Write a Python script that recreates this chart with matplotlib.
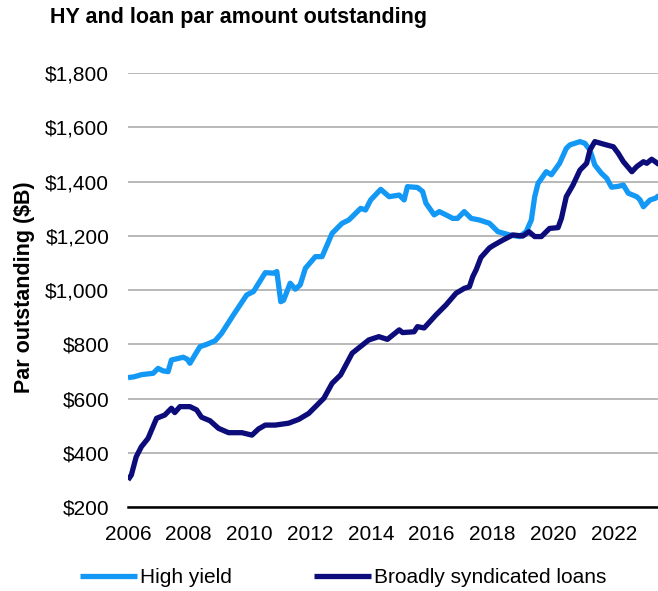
import matplotlib
matplotlib.use("Agg")
import matplotlib.pyplot as plt
from matplotlib.ticker import FuncFormatter

plt.rcParams['font.family'] = ['Liberation Sans', 'DejaVu Sans']

# ---- data ----
hy_years = [2006.0, 2006.2, 2006.45, 2006.83, 2006.99, 2007.15, 2007.32, 2007.43, 2007.82, 2007.95,
            2008.04, 2008.2, 2008.37, 2008.6, 2008.87, 2009.08, 2009.47, 2009.91, 2010.13, 2010.52,
            2010.79, 2010.9, 2011.03, 2011.12, 2011.34, 2011.51, 2011.67, 2011.84, 2012.17, 2012.39,
            2012.72, 2013.05, 2013.27, 2013.66, 2013.82, 2013.99, 2014.32, 2014.6, 2014.93, 2015.09,
            2015.2, 2015.53, 2015.7, 2015.81, 2016.08, 2016.25, 2016.47, 2016.69, 2016.85, 2017.07,
            2017.3, 2017.57, 2017.9, 2018.18, 2018.56, 2018.89, 2019.11, 2019.28, 2019.39, 2019.5,
            2019.77, 2019.94, 2020.21, 2020.43, 2020.55, 2020.88, 2021.04, 2021.21, 2021.37, 2021.59,
            2021.76, 2021.92, 2022.14, 2022.31, 2022.47, 2022.75, 2022.86, 2022.97, 2023.19, 2023.36,
            2023.5]
hy_values = [677, 680, 688, 693, 711, 702, 699, 742, 752, 745,
             730, 760, 791, 800, 813, 840, 908, 982, 994, 1064,
             1062, 1068, 957, 962, 1025, 1003, 1019, 1080, 1123, 1123,
             1209, 1246, 1258, 1301, 1295, 1332, 1371, 1344, 1350, 1332,
             1381, 1378, 1363, 1320, 1277, 1289, 1277, 1264, 1264, 1289,
             1264, 1258, 1246, 1215, 1203, 1197, 1215, 1258, 1344, 1393,
             1436, 1425, 1467, 1522, 1535, 1547, 1541, 1516, 1461, 1430,
             1412, 1379, 1382, 1387, 1357, 1344, 1332, 1307, 1332, 1338,
             1350]

bsl_years = [2006.0, 2006.11, 2006.27, 2006.44, 2006.66, 2006.94, 2007.21, 2007.43, 2007.54, 2007.71,
             2008.04, 2008.26, 2008.42, 2008.7, 2008.98, 2009.31, 2009.75, 2010.08, 2010.3, 2010.52,
             2010.85, 2011.29, 2011.62, 2011.95, 2012.28, 2012.45, 2012.72, 2013.0, 2013.38, 2013.93,
             2014.26, 2014.54, 2014.93, 2015.04, 2015.42, 2015.53, 2015.75, 2016.14, 2016.47, 2016.8,
             2017.07, 2017.24, 2017.35, 2017.46, 2017.62, 2017.9, 2018.01, 2018.34, 2018.67, 2019.0,
             2019.2, 2019.39, 2019.61, 2019.88, 2020.16, 2020.27, 2020.43, 2020.65, 2020.88, 2021.1,
             2021.21, 2021.37, 2021.65, 2021.98, 2022.14, 2022.31, 2022.59, 2022.75, 2022.97, 2023.08,
             2023.24, 2023.36, 2023.5]
bsl_values = [300, 318, 385, 422, 453, 527, 539, 564, 548, 570,
              570, 558, 531, 518, 490, 474, 474, 465, 488, 502,
              502, 509, 523, 545, 582, 601, 656, 687, 767, 816,
              828, 818, 853, 843, 846, 865, 860, 908, 945, 988,
              1006, 1012, 1049, 1074, 1120, 1155, 1163, 1184, 1203, 1199,
              1215, 1197, 1197, 1227, 1230, 1264, 1344, 1387, 1442, 1467,
              1516, 1547, 1538, 1528, 1504, 1473, 1436, 1455, 1473, 1467,
              1482, 1473, 1461]

x_ticks = [2006, 2008, 2010, 2012, 2014, 2016, 2018, 2020, 2022]
y_ticks = [200, 400, 600, 800, 1000, 1200, 1400, 1600, 1800]

title = "HY and loan par amount outstanding"
ylabel = "Par outstanding ($B)"
series_names = ["High yield", "Broadly syndicated loans"]
colors = ["#1399F5", "#0C0C7A"]

# ---- figure ----
W, H = 658, 591
fig = plt.figure(figsize=(W / 100, H / 100), dpi=100)
ax = fig.add_axes([128 / W, 1 - 507 / H, (W - 128) / W, (507 - 73) / H])

ax.plot(hy_years, hy_values, color=colors[0], lw=3.8, solid_joinstyle='round',
        solid_capstyle='butt', label=series_names[0], zorder=3)
ax.plot(bsl_years, bsl_values, color=colors[1], lw=3.8, solid_joinstyle='round',
        solid_capstyle='butt', label=series_names[1], zorder=4)

ax.set_xlim(2006, 2023.45)
ax.set_ylim(200, 1800)
ax.set_xticks(x_ticks)
ax.set_yticks(y_ticks)
ax.yaxis.set_major_formatter(FuncFormatter(lambda v, p: "${:,.0f}".format(v)))

ax.grid(axis='y', color='#A6A6A6', lw=1.1, zorder=0)
ax.set_axisbelow(True)
for s in ['top', 'right', 'left']:
    ax.spines[s].set_visible(False)
ax.spines['bottom'].set_color('black')
ax.spines['bottom'].set_linewidth(1.8)
ax.spines['bottom'].set_zorder(5)
ax.tick_params(axis='both', length=0, labelsize=15, colors='black')
ax.tick_params(axis='y', pad=13.5)
ax.tick_params(axis='x', pad=13)

fig.text(50 / W, 1 - 18 / H, title, fontsize=15.5, fontweight='bold', va='center', ha='left')
fig.text(25 / W, 1 - 287 / H, ylabel, fontsize=15.5, fontweight='bold', rotation=90,
         va='center', ha='center')

leg = fig.legend(loc='center left', bbox_to_anchor=(80 / W, 1 - 577.5 / H), ncol=2,
                 frameon=False, fontsize=15, handlelength=2.75, handletextpad=0.15,
                 columnspacing=3.9, borderpad=0, borderaxespad=0)
for line in leg.get_lines():
    line.set_linewidth(3.8)

fig.savefig("out.png", dpi=100)
